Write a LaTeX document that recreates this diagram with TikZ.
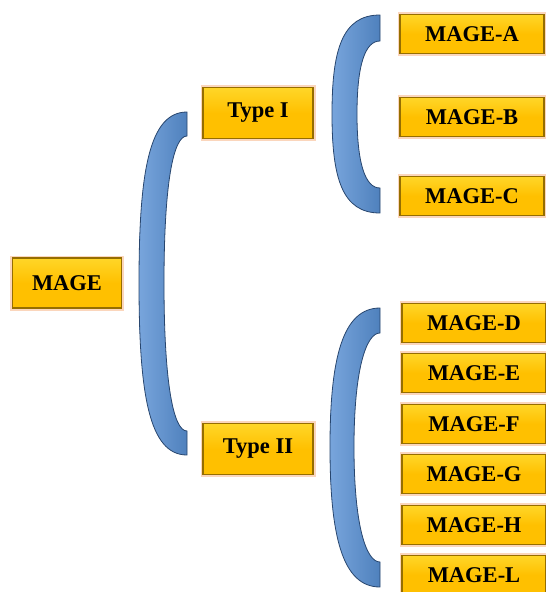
\documentclass[tikz,border=0pt]{standalone}
\usepackage{fontspec}
\setmainfont{Liberation Serif}
\definecolor{gold}{RGB}{255,192,0}
\definecolor{goldlight}{RGB}{255,214,40}
\definecolor{golddark}{RGB}{150,110,0}
\definecolor{glow}{RGB}{250,196,160}
\definecolor{bluemid}{RGB}{79,129,189}
\definecolor{bluelight}{RGB}{120,165,220}
\definecolor{bluedark}{RGB}{40,70,110}
\tikzset{
  box/.style={rectangle, top color=goldlight, bottom color=gold, middle color=gold,
    draw=golddark, line width=1.5pt,
    preaction={draw=glow, line width=5pt, opacity=0.7},
    font=\fontsize{22.5}{25}\selectfont\bfseries, text=black, inner sep=0pt},
  catbox/.style={box, minimum width=110pt, minimum height=51pt},
  leafbox/.style={box, minimum width=144pt, minimum height=39pt},
  bracket/.style={left color=bluelight, right color=bluemid, draw=bluedark, line width=0.8pt}
}
\begin{document}
\begin{tikzpicture}[x=1pt,y=-1pt]
		\useasboundingbox (0,0) rectangle (546,592);
		% accolades
		\draw[bracket] (187,112) .. controls (149,112) and (139,172) .. (139,283)
		  .. controls (139,394) and (149,455) .. (187,455) -- (187,431)
		  .. controls (173,431) and (164,381) .. (164,283)
		  .. controls (164,185) and (173,136) .. (187,136) -- cycle;
		\draw[bracket] (380,15) .. controls (342,15) and (332,50) .. (332,114)
		  .. controls (332,178) and (342,213) .. (380,213) -- (380,188)
		  .. controls (365,188) and (357,163) .. (357,114)
		  .. controls (357,65) and (365,41) .. (380,41) -- cycle;
		\draw[bracket] (380,308) .. controls (342,308) and (330,360) .. (330,447)
		  .. controls (330,535) and (342,587) .. (380,587) -- (380,562)
		  .. controls (366,562) and (354,525) .. (354,447)
		  .. controls (354,370) and (366,333) .. (380,333) -- cycle;
		% boites
		\node[catbox, minimum width=109pt, minimum height=50pt] (mage) at (67,283) {MAGE};
		\node[catbox] (type1) at (258,113) {Type I};
		\node[catbox] (type2) at (258,449) {Type II};
		\node[leafbox] (mageA) at (472,34) {MAGE-A};
		\node[leafbox] (mageB) at (472,117) {MAGE-B};
		\node[leafbox] (mageC) at (472,196) {MAGE-C};
		\node[leafbox] (mageD) at (474,323) {MAGE-D};
		\node[leafbox] (mageE) at (474,373) {MAGE-E};
		\node[leafbox] (mageF) at (474,424) {MAGE-F};
		\node[leafbox] (mageG) at (474,474) {MAGE-G};
		\node[leafbox] (mageH) at (474,525) {MAGE-H};
		\node[leafbox] (mageL) at (474,575) {MAGE-L};
    \end{tikzpicture}
\end{document}
